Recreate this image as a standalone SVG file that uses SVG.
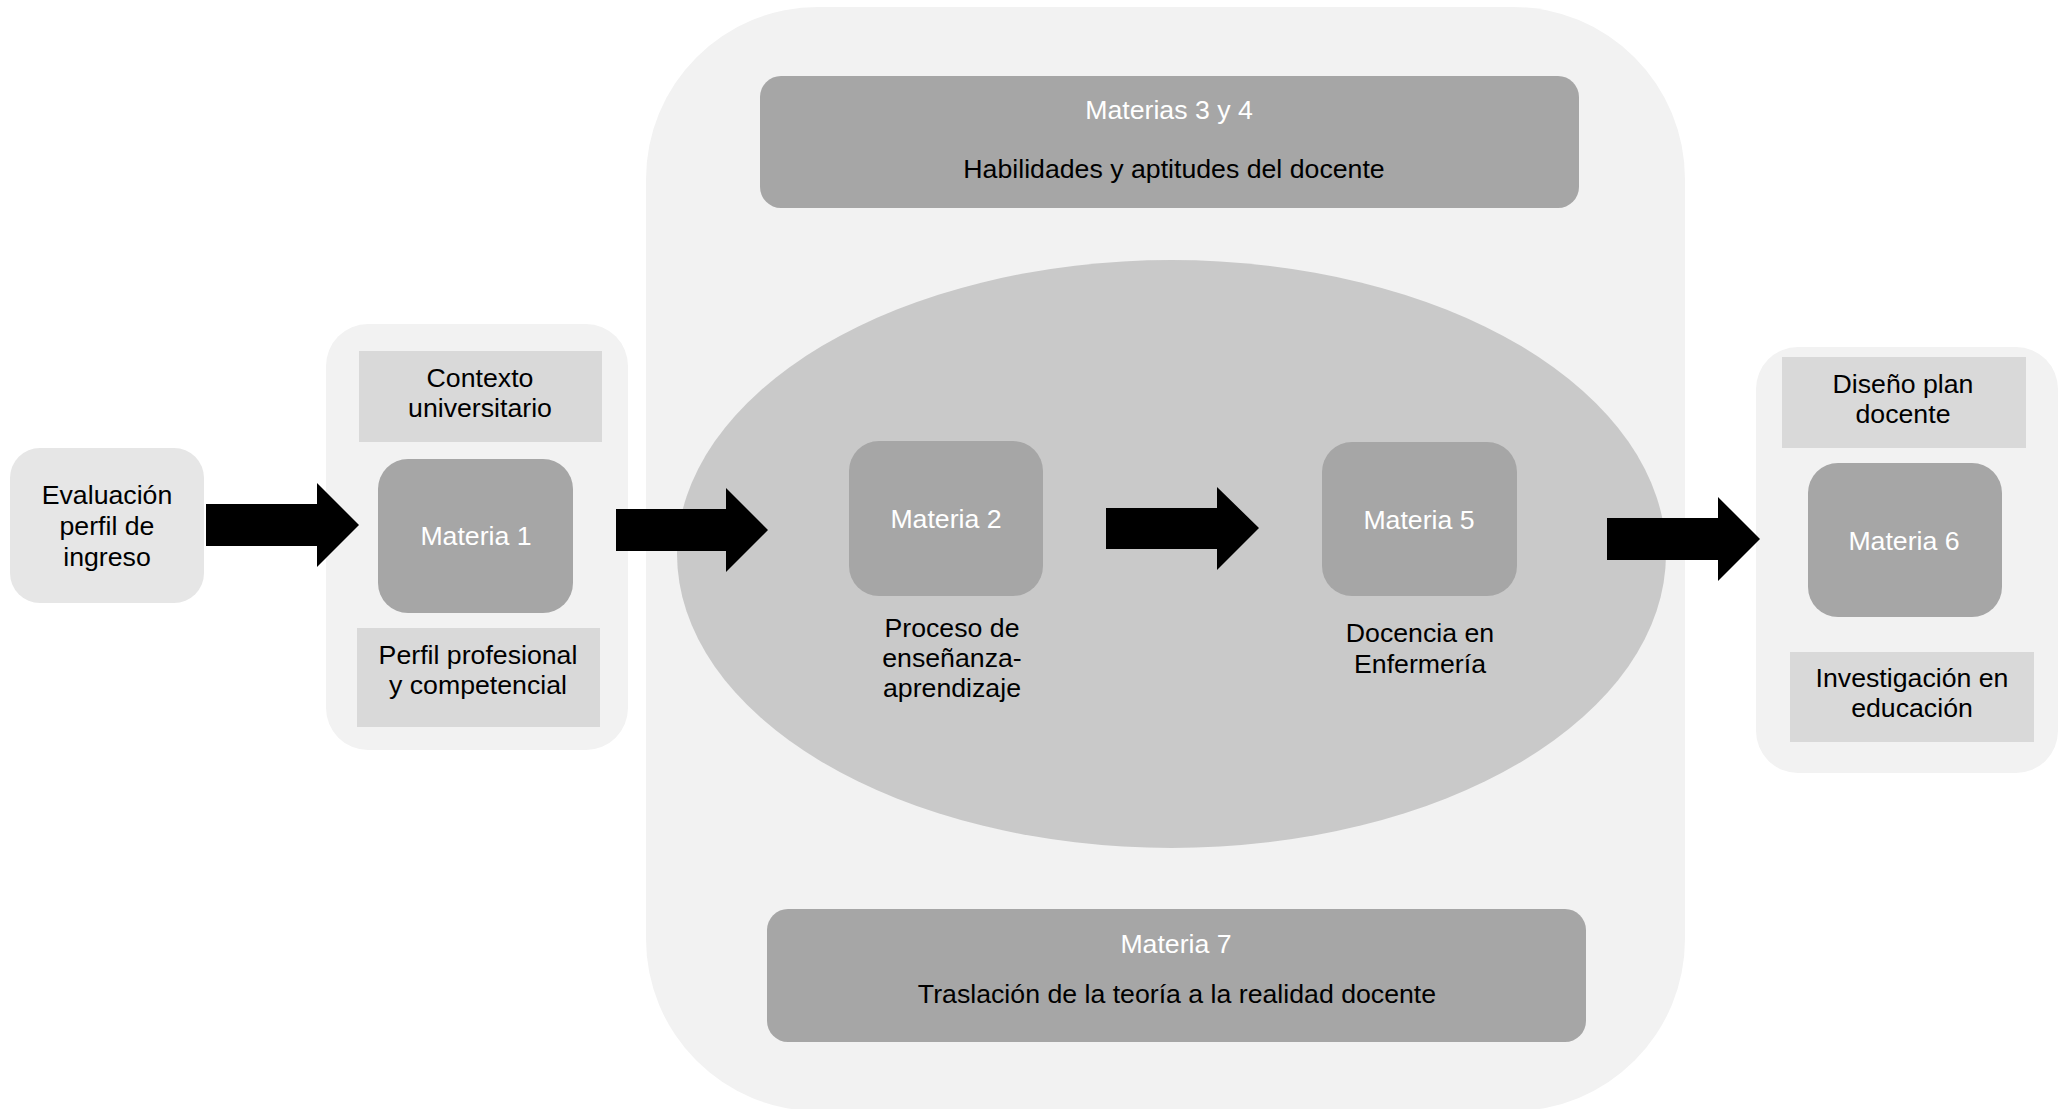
<svg xmlns="http://www.w3.org/2000/svg" width="2069" height="1109" viewBox="0 0 2069 1109">
<style>
text{font-family:"Liberation Sans",Arial,sans-serif;font-size:26.7px;text-anchor:middle;fill:#000}
.w{fill:#fff}
.bg{fill:#f2f2f2}
.lt{fill:#d9d9d9}
.dk{fill:#a6a6a6}
.ev{fill:#e6e6e6}
.arrow{fill:#000}
</style>
<rect width="2069" height="1109" fill="#fff"/>
<g id="contenedor-central">
<rect class="bg" x="646" y="7" width="1039" height="1104" rx="172"/>
<ellipse cx="1171.5" cy="554" rx="494.5" ry="294" fill="#c9c9c9"/>
</g>
<g id="evaluacion">
<rect class="ev" x="10" y="448" width="194" height="155" rx="30"/>
<text x="107" y="504">Evaluación</text>
<text x="107" y="535">perfil de</text>
<text x="107" y="566">ingreso</text>
</g>
<g id="grupo-materia1">
<rect class="bg" x="326" y="324" width="302" height="426" rx="42"/>
</g>
<g id="contexto">
<rect class="lt" x="359" y="351" width="243" height="91"/>
<text x="480" y="387">Contexto</text>
<text x="480" y="417">universitario</text>
</g>
<g id="materia1">
<rect class="dk" x="378" y="459" width="195" height="154" rx="30"/>
<text class="w" x="476" y="545">Materia 1</text>
</g>
<g id="perfil">
<rect class="lt" x="357" y="628" width="243" height="99"/>
<text x="478" y="664">Perfil profesional</text>
<text x="478" y="694">y competencial</text>
</g>
<g id="materias34">
<rect class="dk" x="760" y="76" width="819" height="132" rx="21"/>
<text class="w" x="1169" y="119">Materias 3 y 4</text>
<text x="1174" y="178">Habilidades y aptitudes del docente</text>
</g>
<g id="materia2">
<rect class="dk" x="849" y="441" width="194" height="155" rx="30"/>
<text class="w" x="946" y="528">Materia 2</text>
</g>
<g id="proceso">
<text x="952" y="637">Proceso de</text>
<text x="952" y="667">enseñanza-</text>
<text x="952" y="697">aprendizaje</text>
</g>
<g id="materia5">
<rect class="dk" x="1322" y="442" width="195" height="154" rx="30"/>
<text class="w" x="1419" y="529">Materia 5</text>
</g>
<g id="docencia">
<text x="1420" y="642">Docencia en</text>
<text x="1420" y="673">Enfermería</text>
</g>
<g id="materia7">
<rect class="dk" x="767" y="909" width="819" height="133" rx="21"/>
<text class="w" x="1176" y="953">Materia 7</text>
<text x="1177" y="1003">Traslación de la teoría a la realidad docente</text>
</g>
<g id="grupo-materia6">
<rect class="bg" x="1756" y="347" width="302" height="426" rx="42"/>
</g>
<g id="diseno">
<rect class="lt" x="1782" y="357" width="244" height="91"/>
<text x="1903" y="393">Diseño plan</text>
<text x="1903" y="423">docente</text>
</g>
<g id="materia6">
<rect class="dk" x="1808" y="463" width="194" height="154" rx="30"/>
<text class="w" x="1904" y="550">Materia 6</text>
</g>
<g id="investigacion">
<rect class="lt" x="1790" y="652" width="244" height="90"/>
<text x="1912" y="687">Investigación en</text>
<text x="1912" y="717">educación</text>
</g>
<g id="connectors">
<polygon class="arrow" points="206,504 317,504 317,483 359,525 317,567 317,546 206,546"/>
<polygon class="arrow" points="616,509 726,509 726,488 768,530 726,572 726,551 616,551"/>
<polygon class="arrow" points="1106,508 1217,508 1217,487 1259,528 1217,570 1217,549 1106,549"/>
<polygon class="arrow" points="1607,518 1718,518 1718,497 1760,539 1718,581 1718,560 1607,560"/>
</g>
</svg>
